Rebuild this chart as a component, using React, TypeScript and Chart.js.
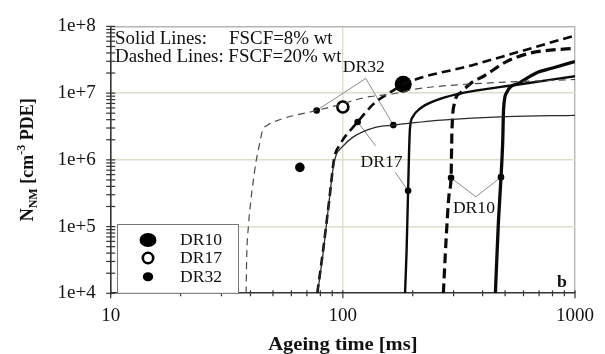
import React, { useEffect, useRef } from 'react';
import { Chart, registerables } from 'chart.js';

Chart.register(...registerables);

// ---- data (ageing time in ms, N_NM in cm^-3 PDE) ----
const dr32F20T = [38.3, 38.5, 39.2, 40.1, 41.6, 42.2, 43.6, 45.1, 47.3, 48.7, 77.1, 93.7, 125.6, 163, 205, 343, 1000];
const dr32F20N = [1e4, 3.1e4, 1.02e5, 2.37e5, 6.5e5, 9.1e5, 1.62e6, 2.78e6, 3.29e6, 3.52e6, 5.5e6, 6.5e6, 8.65e6, 9.7e6, 1.15e7, 1.36e7, 1.6e7];

const dr32F8T = [77.8, 82.5, 87.5, 90.9, 93.7, 98.4, 110.6, 138, 165, 266, 507, 1000];
const dr32F8N = [1e4, 4.4e4, 2.6e5, 7.7e5, 1.2e6, 1.51e6, 2.19e6, 3.07e6, 3.32e6, 3.93e6, 4.45e6, 4.65e6];

const dr17F20T = [77.6, 82.2, 87.5, 91.9, 96.4, 115.8, 135.7, 168.3, 182, 367, 1000];
const dr17F20N = [1e4, 4.4e4, 2.6e5, 1.08e6, 1.62e6, 3.7e6, 6.9e6, 1.15e7, 1.36e7, 2.66e7, 7.3e7];

const dr17F8T = [185.3, 188.2, 191, 192.8, 194.6, 200.4, 214.6, 248.5, 311, 581, 1000];
const dr17F8N = [1e4, 4.4e4, 3.44e5, 1.28e6, 2.97e6, 4.45e6, 5.83e6, 7.64e6, 9.67e6, 1.36e7, 1.79e7];

const dr10F20T = [271, 278.3, 287.5, 292.5, 294.9, 302, 322, 360, 404, 507, 640, 1000];
const dr10F20N = [1e4, 6.15e4, 3.32e5, 5.38e5, 2.51e6, 6.9e6, 1.02e7, 1.45e7, 1.79e7, 2.97e7, 3.98e7, 4.72e7];

const dr10F8T = [454, 467, 480, 488, 492.5, 508, 580, 681, 801, 1000];
const dr10F8N = [1e4, 1.02e5, 5.5e5, 1.79e6, 5.83e6, 1.02e7, 1.44e7, 2.01e7, 2.38e7, 2.97e7];

// experimental points
const expDR10T = [182];
const expDR10N = [1.36e7];
const expDR17T = [100];
const expDR17N = [6.2e6];
const expDR32T = [65.3];
const expDR32N = [7.7e5];

// marked model points (pointed at by the callouts)
const markDR32T = [77.1, 165];
const markDR32N = [5.5e6, 3.32e6];
const markDR17T = [115.8, 191];
const markDR17N = [3.7e6, 3.44e5];
const markDR10T = [292.5, 480];
const markDR10N = [5.38e5, 5.5e5];

// callout label anchors (data space) : text centre, and line start(s)
const calloutLabels = ['DR32', 'DR17', 'DR10'];
const calloutTextT = [123, 146.7, 367];
const calloutTextN = [2.4e7, 9.1e5, 1.87e5];
const calloutFromT = [[125.5, 125.5], [138.4, 168.3], [374, 374]];
const calloutFromN = [[1.66e7, 1.66e7], [1.62e6, 6.5e5], [2.8e5, 2.8e5]];

const xTickValues = [10, 20, 30, 40, 50, 60, 70, 80, 90, 100, 200, 300, 400, 500, 600, 700, 800, 900, 1000];
const yTickValues = (() => {
  const out: number[] = [];
  for (let e = 4; e < 8; e++) for (let m = 1; m < 10; m++) out.push(m * Math.pow(10, e));
  out.push(1e8);
  return out;
})();

const SERIF = '"Liberation Serif", "Times New Roman", serif';

const isPow10 = (v: number) => Math.abs(Math.log10(v) - Math.round(Math.log10(v))) < 1e-9;
const zip = (t: number[], n: number[]) => t.map((x, i) => ({ x, y: n[i] }));

function sText(ctx: CanvasRenderingContext2D, s: string, x: number, y: number, font: string, align: CanvasTextAlign = 'left', sx = 1, baseline: CanvasTextBaseline = 'alphabetic') {
  ctx.save();
  ctx.translate(x, y);
  ctx.scale(sx, 1);
  ctx.font = font;
  ctx.textAlign = align;
  ctx.textBaseline = baseline;
  ctx.fillStyle = '#111';
  ctx.fillText(s, 0, 0);
  ctx.restore();
}

const overlay = {
  id: 'overlay',
  beforeDatasetsDraw(chart: any) {
    const { ctx, scales } = chart;
    const px = (t: number) => scales.x.getPixelForValue(t);
    const py = (n: number) => scales.y.getPixelForValue(n);
    const marksT = [markDR32T, markDR17T, markDR10T];
    const marksN = [markDR32N, markDR17N, markDR10N];
    ctx.save();
    ctx.strokeStyle = '#8a8a8a';
    ctx.lineWidth = 1;
    for (let i = 0; i < calloutLabels.length; i++) {
      for (let j = 0; j < 2; j++) {
        ctx.beginPath();
        ctx.moveTo(px(calloutFromT[i][j]), py(calloutFromN[i][j]));
        ctx.lineTo(px(marksT[i][j]), py(marksN[i][j]));
        ctx.stroke();
      }
    }
    ctx.restore();
  },
  afterDraw(chart: any) {
    const { ctx, chartArea: a, scales } = chart;
    const xs = scales.x, ys = scales.y;
    const px = (t: number) => xs.getPixelForValue(t);
    const py = (n: number) => ys.getPixelForValue(n);
    ctx.save();
    // tick marks crossing the axes
    ctx.strokeStyle = '#333';
    ctx.lineWidth = 1.2;
    for (const t of ys.ticks) {
      const y = py(t.value);
      ctx.beginPath();
      ctx.moveTo(a.left - 4.5, y);
      ctx.lineTo(a.left + 4.5, y);
      ctx.stroke();
    }
    for (const t of xs.ticks) {
      const x = px(t.value);
      ctx.beginPath();
      ctx.moveTo(x, a.bottom - 3);
      ctx.lineTo(x, a.bottom + (isPow10(t.value) ? 5 : 3));
      ctx.stroke();
    }

    // callout texts
    for (let i = 0; i < calloutLabels.length; i++) {
      sText(ctx, calloutLabels[i], px(calloutTextT[i]), py(calloutTextN[i]), `16px ${SERIF}`, 'center', 1.1, 'middle');
    }

    // top-left note
    sText(ctx, 'Solid Lines:', a.left + 4.3, a.top + 17.3, `18px ${SERIF}`, 'left', 1.05);
    sText(ctx, 'FSCF=8% wt', a.left + 118.3, a.top + 17.3, `18px ${SERIF}`, 'left', 1.05);
    sText(ctx, 'Dashed Lines: FSCF=20% wt', a.left + 4.3, a.top + 35.3, `18px ${SERIF}`, 'left', 1.05);

    // panel letter
    sText(ctx, 'b', a.right - 13, a.bottom - 6, `bold 17px ${SERIF}`, 'center', 1.05);

    // legend box
    const bx = a.left + 6.3, by = a.bottom - 69.3, bw = 121, bh = 69.3;
    ctx.fillStyle = '#fff';
    ctx.fillRect(bx, by, bw, bh);
    ctx.strokeStyle = '#777';
    ctx.lineWidth = 1;
    ctx.strokeRect(bx + 0.5, by + 0.5, bw, bh - 0.5);
    const mx = bx + 31;
    const rows = [by + 16, by + 34, by + 52.7];
    ctx.fillStyle = '#000';
    ctx.beginPath();
    ctx.ellipse(mx, rows[0], 8.5, 7, 0, 0, Math.PI * 2);
    ctx.fill();
    ctx.beginPath();
    ctx.arc(mx, rows[1], 5.2, 0, Math.PI * 2);
    ctx.lineWidth = 2.6;
    ctx.strokeStyle = '#000';
    ctx.stroke();
    ctx.beginPath();
    ctx.ellipse(mx, rows[2], 5.2, 4.5, 0, 0, Math.PI * 2);
    ctx.fill();
    const names = ['DR10', 'DR17', 'DR32'];
    names.forEach((n, i) => sText(ctx, n, bx + 63, rows[i] + 1, `16px ${SERIF}`, 'left', 1.1, 'middle'));

    // axis titles
    sText(ctx, 'Ageing time [ms]', (a.left + a.right) / 2 + 0, 350, `bold 19px ${SERIF}`, 'center', 1.08);

    // y title (rotated, with sub/superscript)
    const parts = [
      { s: 'N', f: `bold 18px ${SERIF}`, dy: 0 },
      { s: 'NM', f: `bold 12px ${SERIF}`, dy: 4 },
      { s: ' [cm', f: `bold 18px ${SERIF}`, dy: 0 },
      { s: '-3', f: `bold 12px ${SERIF}`, dy: -8 },
      { s: ' PDE]', f: `bold 18px ${SERIF}`, dy: 0 },
    ];
    let total = 0;
    for (const p of parts) { ctx.font = p.f; total += ctx.measureText(p.s).width; }
    ctx.save();
    ctx.translate(33, (a.top + a.bottom) / 2);
    ctx.rotate(-Math.PI / 2);
    ctx.fillStyle = '#111';
    ctx.textBaseline = 'alphabetic';
    ctx.textAlign = 'left';
    let u = -total / 2;
    for (const p of parts) {
      ctx.font = p.f;
      ctx.fillText(p.s, u, p.dy);
      u += ctx.measureText(p.s).width;
    }
    ctx.restore();
    ctx.restore();
  },
};

const lineDs = (label: string, t: number[], n: number[], width: number, dash: number[], color = '#0a0a0a') => ({
  label,
  data: zip(t, n),
  showLine: true,
  borderColor: color,
  borderWidth: width,
  borderDash: dash,
  pointRadius: 0,
  cubicInterpolationMode: 'monotone' as const,
  fill: false,
});

const dotDs = (label: string, t: number[], n: number[], r: number, fill: string, bw: number) => ({
  label,
  data: zip(t, n),
  showLine: false,
  pointRadius: r,
  pointBackgroundColor: fill,
  pointBorderColor: '#000',
  pointBorderWidth: bw,
});

export default function App() {
  const ref = useRef<HTMLCanvasElement | null>(null);
  useEffect(() => {
    if (!ref.current) return;
    const gridColor = (axis: 'x' | 'y') => (c: any) => {
      const v = c.tick?.value;
      if (v == null) return 'rgba(0,0,0,0)';
      if (axis === 'x') {
        if (v === 1000) return '#b5b5b5';
        if (v === 100) return '#dedecd';
        return 'rgba(0,0,0,0)';
      }
      if (Math.abs(v - 1e8) < 1) return '#b5b5b5';
      if (isPow10(v) && v > 1e4) return '#dedecd';
      return 'rgba(0,0,0,0)';
    };
    const chart = new Chart(ref.current, {
      type: 'scatter',
      data: {
        datasets: [
          lineDs('DR32 20%', dr32F20T, dr32F20N, 1.2, [7, 5], '#4a4a4a'),
          lineDs('DR32 8%', dr32F8T, dr32F8N, 1.3, [], '#2a2a2a'),
          lineDs('DR17 20%', dr17F20T, dr17F20N, 2.6, [9, 5]),
          lineDs('DR17 8%', dr17F8T, dr17F8N, 2.4, []),
          lineDs('DR10 20%', dr10F20T, dr10F20N, 3.2, [10, 5]),
          lineDs('DR10 8%', dr10F8T, dr10F8N, 3.3, []),
          dotDs('marks DR32', markDR32T, markDR32N, 3.3, '#000', 0),
          dotDs('marks DR17', markDR17T, markDR17N, 3.3, '#000', 0),
          dotDs('marks DR10', markDR10T, markDR10N, 3.3, '#000', 0),
          dotDs('DR10', expDR10T, expDR10N, 8.5, '#000', 0),
          dotDs('DR17', expDR17T, expDR17N, 5.5, '#fff', 2.6),
          dotDs('DR32', expDR32T, expDR32N, 4.8, '#000', 0),
        ] as any,
      },
      options: {
        animation: false,
        responsive: false,
        events: [],
        layout: { padding: { left: 0, top: 20.7, right: 22.3, bottom: 0 } },
        plugins: { legend: { display: false }, tooltip: { enabled: false }, title: { display: false } },
        scales: {
          x: {
            type: 'logarithmic',
            min: 10,
            max: 1000,
            afterBuildTicks: (s: any) => { s.ticks = xTickValues.map((v) => ({ value: v })); },
            afterFit: (s: any) => { s.height = 60.7; },
            ticks: {
              autoSkip: false,
              maxRotation: 0,
              padding: 11,
              color: '#111',
              font: { family: SERIF, size: 19 },
              callback: (v: any) => (isPow10(Number(v)) ? String(Number(v)) : ''),
            },
            grid: { drawTicks: false, color: gridColor('x'), lineWidth: 1.4 },
            border: { color: '#333', width: 1.6 },
          },
          y: {
            type: 'logarithmic',
            min: 1e4,
            max: 1e8,
            afterBuildTicks: (s: any) => { s.ticks = yTickValues.map((v) => ({ value: v })); },
            afterFit: (s: any) => { s.width = 110.7; },
            ticks: {
              autoSkip: false,
              padding: 15,
              color: '#111',
              font: { family: SERIF, size: 19 },
              callback: (v: any) => (isPow10(Number(v)) ? '1e+' + Math.round(Math.log10(Number(v))) : ''),
            },
            grid: { drawTicks: false, color: gridColor('y'), lineWidth: 1.4 },
            border: { color: '#333', width: 1.6 },
          },
        },
      } as any,
      plugins: [overlay],
    });
    return () => chart.destroy();
  }, []);
  return (
    <div style={{ position: 'absolute', left: 0, top: 0, width: 605, height: 354, background: '#fff' }}>
      <canvas ref={ref} width={605} height={354} style={{ display: 'block' }} />
    </div>
  );
}
